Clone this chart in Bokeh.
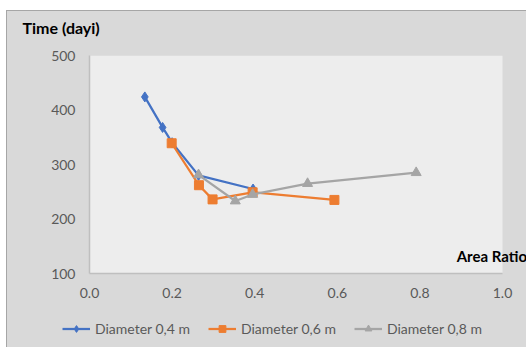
from bokeh.plotting import figure
from bokeh.layouts import column
from bokeh.models import Range1d, Label, Legend, LegendItem, CustomJSTickFormatter, FixedTicker, BoxAnnotation
from bokeh.embed import file_html
from bokeh.resources import INLINE

series_names = ["Diameter 0,4 m", "Diameter 0,6 m", "Diameter 0,8 m"]
blue_x = [0.134, 0.177, 0.200, 0.264, 0.396]
blue_y = [424, 368, 340, 280, 255]
orange_x = [0.199, 0.265, 0.298, 0.395, 0.593]
orange_y = [339, 262, 236, 249, 235]
gray_x = [0.264, 0.353, 0.395, 0.528, 0.791]
gray_y = [281, 233, 245, 265, 285]
x_ticks = [0.0, 0.2, 0.4, 0.6, 0.8, 1.0]
y_ticks = [100, 200, 300, 400, 500]
x_min, x_max = 0.0, 1.0
y_min, y_max = 100, 500
title_text = "Time (dayi)"
x_title_text = "Area Ratio"

FONT = "Lato"
BG = "#D9D9D9"


def strip(h):
    f = figure(width=519, height=h, output_backend="svg", toolbar_location=None,
               x_range=Range1d(0, 1), y_range=Range1d(0, 1), x_axis_type=None, y_axis_type=None,
               min_border=0)
    f.frame_align = False
    f.background_fill_color = BG
    f.border_fill_color = BG
    f.outline_line_color = None
    f.grid.visible = False
    return f


# title strip
top = strip(34)
top.add_layout(Label(x=15 / 519, y=0.53, text=title_text, text_font=FONT, text_font_style="bold",
                     text_font_size="16px", text_baseline="middle", text_color="#000000"))

p = figure(width=519, height=266, output_backend="svg", toolbar_location=None,
           x_range=Range1d(x_min, x_max + 24 / 413), y_range=Range1d(y_min, y_max),
           min_border_left=82, min_border_right=0, min_border_top=10, min_border_bottom=38)
p.frame_align = False
p.background_fill_color = BG
p.border_fill_color = BG
p.outline_line_color = None
p.grid.visible = False
p.add_layout(BoxAnnotation(left=x_min, right=x_max, bottom=y_min, top=y_max,
                           fill_color="#EDEDED", fill_alpha=1, line_color=None, level="underlay"))

for ax in (p.xaxis[0], p.yaxis[0]):
    ax.axis_line_color = "#BFBFBF"
    ax.axis_line_width = 1.5
    ax.major_tick_line_color = None
    ax.minor_tick_line_color = None
    ax.major_label_text_font = FONT
    ax.major_label_text_font_size = "14px"
    ax.major_label_text_color = "#595959"
p.xaxis.major_label_standoff = 8
p.yaxis.major_label_standoff = 8
p.xaxis.bounds = (x_min, x_max)
p.xaxis.ticker = FixedTicker(ticks=x_ticks)
p.yaxis.ticker = FixedTicker(ticks=y_ticks)
p.xaxis.formatter = CustomJSTickFormatter(code="return tick.toFixed(1);")

colors = ["#4472C4", "#ED7D31", "#A5A5A5"]
data = [(blue_x, blue_y), (orange_x, orange_y), (gray_x, gray_y)]
markers = ["diamond", "square", "triangle"]
sizes = [10, 9, 10]

# legend strip below the chart (its ranges show none of the data points)
lg = strip(36)

items = []
for name, (xs, ys), c, m, s in zip(series_names, data, colors, markers, sizes):
    p.line(xs, ys, line_color=c, line_width=2.25)
    p.scatter(xs, ys, marker=m, size=s, fill_color=c, line_color=c)
    l = lg.line(xs, ys, line_color=c, line_width=2.25)
    sc = lg.scatter(xs, ys, marker=m, size=s - 2, fill_color=c, line_color=c)
    items.append(LegendItem(label=name, renderers=[l, sc]))

legend = Legend(items=items, orientation="horizontal", location=(55, 10),
                background_fill_alpha=0, border_line_color=None,
                label_text_font=FONT, label_text_font_size="14px", label_text_color="#595959",
                glyph_width=28, glyph_height=17, label_height=17, label_standoff=5,
                spacing=18, padding=0, margin=0)
lg.add_layout(legend, "center")

p.add_layout(Label(x=0.889, y=133, text=x_title_text, text_font=FONT, text_font_style="bold",
                   text_font_size="15px", text_baseline="middle", text_color="#000000"))

layout = column(top, p, lg, spacing=0)
layout.margin = (10, 0, 0, 6)
layout.styles = {"border-left": "1px solid #A6A6A6", "border-top": "1px solid #A6A6A6",
                 "background-color": BG}

open("out.html", "w").write(file_html(layout, INLINE))
